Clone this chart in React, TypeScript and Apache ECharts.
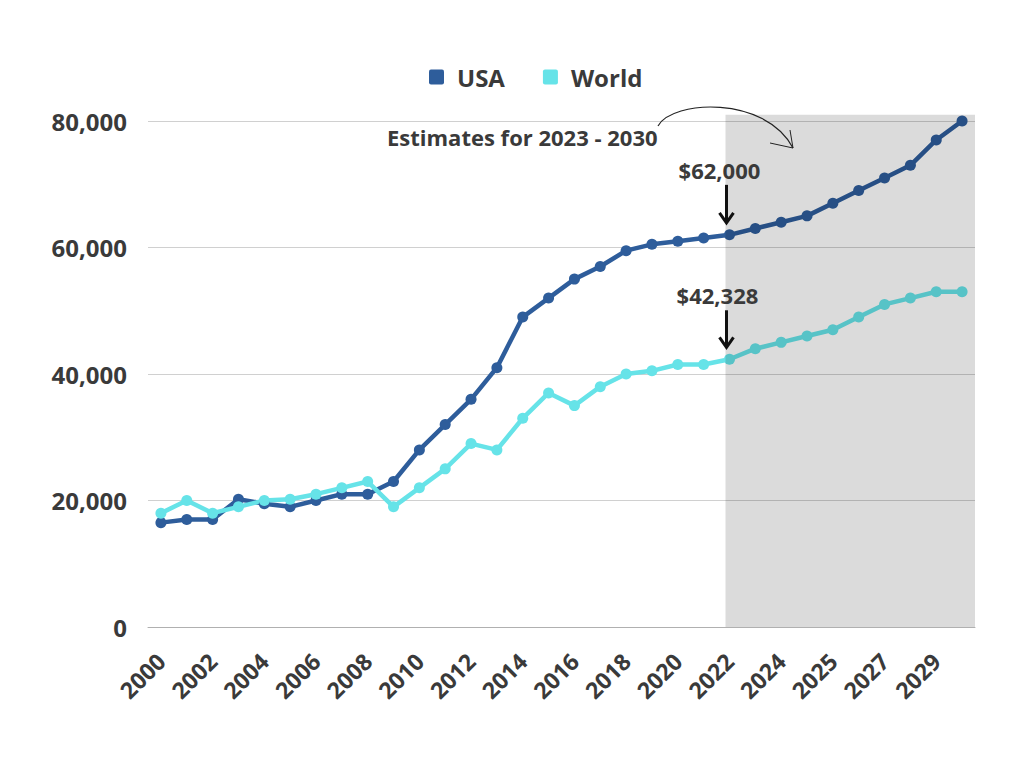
import React, { useEffect, useRef } from "react";
import * as echarts from "echarts";

const years = [
  "2000", "2001", "2002", "2003", "2004", "2005", "2006", "2007", "2008", "2009",
  "2010", "2011", "2012", "2013", "2014", "2015", "2016", "2017", "2018", "2019",
  "2020", "2021", "2022", "2023", "2024", "2024", "2025", "2026", "2027", "2028",
  "2029", "2030",
];

const usa = [
  16500, 17000, 17000, 20200, 19500, 19000, 20000, 21000, 21000, 23000,
  28000, 32000, 36000, 41000, 49000, 52000, 55000, 57000, 59500, 60500,
  61000, 61500, 62000, 63000, 64000, 65000, 67000, 69000, 71000, 73000,
  77000, 80000,
];

const world = [
  18000, 20000, 18000, 19000, 20000, 20200, 21000, 22000, 23000, 19000,
  22000, 25000, 29000, 28000, 33000, 37000, 35000, 38000, 40000, 40500,
  41500, 41500, 42328, 44000, 45000, 46000, 47000, 49000, 51000, 52000,
  53000, 53000,
];

const seriesNames = ["USA", "World"];
const estimateStartIndex = 22;
const estimateNote = "Estimates for 2023 - 2030";

const FONT = "'Open Sans', sans-serif";
const TEXT = "#3a3a3a";
const USA_COLOR = "#2E5D9B";
const WORLD_COLOR = "#66E3E8";
const GRID = { left: 148, right: 49, top: 121, bottom: 141 };
const W = 1024;
const H = 768;
const SQUARE_ICON = "path://M2,0 H13 Q15,0 15,2 V13 Q15,15 13,15 H2 Q0,15 0,13 V2 Q0,0 2,0 Z";

const fmt = (v: number) => Math.round(v).toLocaleString("en-US");

export default function App() {
  const ref = useRef<HTMLDivElement>(null);

  useEffect(() => {
    if (!ref.current) return;
    const chart = echarts.init(ref.current, undefined, { renderer: "svg", width: W, height: H });
    chart.setOption({
      animation: false,
      backgroundColor: "#ffffff",
      legend: {
        data: seriesNames,
        left: 424,
        top: 60,
        icon: SQUARE_ICON,
        itemWidth: 15,
        itemHeight: 15,
        itemGap: 38,
        textStyle: {
          fontFamily: FONT,
          fontWeight: "bold",
          fontSize: 24,
          color: TEXT,
          padding: [0, 0, 0, 8],
        },
      },
      grid: { ...GRID },
      xAxis: {
        type: "category",
        data: years,
        boundaryGap: true,
        axisTick: { show: false },
        axisLine: { lineStyle: { color: "#b0b0b0", width: 1 } },
        axisLabel: {
          interval: 1,
          rotate: 45,
          margin: 30,
          fontFamily: FONT,
          fontWeight: "bold",
          fontSize: 23,
          color: TEXT,
        },
      },
      yAxis: {
        type: "value",
        min: 0,
        max: 80000,
        interval: 20000,
        axisLine: { show: false },
        axisTick: { show: false },
        splitLine: { lineStyle: { color: "#d0d0d0", width: 1 } },
        axisLabel: {
          margin: 21,
          formatter: (v: number) => fmt(v),
          fontFamily: FONT,
          fontWeight: "bold",
          fontSize: 24,
          color: TEXT,
        },
      },
      series: [
        {
          name: seriesNames[0],
          type: "line",
          data: usa,
          color: USA_COLOR,
          symbol: "circle",
          symbolSize: 11,
          showSymbol: true,
          lineStyle: { width: 4.5, color: USA_COLOR },
          itemStyle: { color: USA_COLOR },
        },
        {
          name: seriesNames[1],
          type: "line",
          data: world,
          color: WORLD_COLOR,
          symbol: "circle",
          symbolSize: 11,
          showSymbol: true,
          lineStyle: { width: 4.5, color: WORLD_COLOR },
          itemStyle: { color: WORLD_COLOR },
        },
      ],
    });

    const pU = chart.convertToPixel({ xAxisIndex: 0, yAxisIndex: 0 }, [estimateStartIndex, usa[estimateStartIndex]]) as number[];
    const pW = chart.convertToPixel({ xAxisIndex: 0, yAxisIndex: 0 }, [estimateStartIndex, world[estimateStartIndex]]) as number[];
    const yTop = chart.convertToPixel({ yAxisIndex: 0 }, 81000) as number;
    const yBottom = chart.convertToPixel({ yAxisIndex: 0 }, 0) as number;
    const xRight = W - GRID.right;

    const arrow = (x: number, tipY: number, topY: number) => [
      {
        type: "line",
        shape: { x1: x, y1: topY, x2: x, y2: tipY - 1 },
        style: { stroke: "#111", lineWidth: 3 },
        z: 100,
      },
      {
        type: "polyline",
        shape: { points: [[x - 7, tipY - 10], [x, tipY], [x + 7, tipY - 10]] },
        style: { stroke: "#111", lineWidth: 3, fill: "none" },
        z: 100,
      },
    ];

    const label = (text: string, cx: number, cy: number) => ({
      type: "text",
      x: cx,
      y: cy,
      style: {
        text,
        fill: TEXT,
        font: `bold 22px ${FONT}`,
        align: "center",
        verticalAlign: "middle",
      },
      z: 100,
    });

    chart.setOption({
      graphic: [
        {
          type: "rect",
          shape: { x: pU[0] - 4, y: yTop, width: xRight - (pU[0] - 4), height: yBottom - yTop },
          style: { fill: "rgba(0,0,0,0.14)" },
          z: 50,
        },
        ...arrow(pU[0] - 3, pU[1] - 12, pU[1] - 50),
        ...arrow(pW[0] - 3, pW[1] - 12, pW[1] - 49),
        label("$" + fmt(usa[estimateStartIndex]), pU[0] - 10, pU[1] - 65),
        label("$" + fmt(world[estimateStartIndex]), pW[0] - 12, pW[1] - 64),
        {
          type: "text",
          x: 387,
          y: 137,
          style: {
            text: estimateNote,
            fill: TEXT,
            font: `bold 22px ${FONT}`,
            align: "left",
            verticalAlign: "middle",
          },
          z: 100,
        },
        {
          type: "bezierCurve",
          shape: { x1: 658, y1: 126, cpx1: 672, cpy1: 100, cpx2: 765, cpy2: 95, x2: 793, y2: 148 },
          style: { stroke: "#222", lineWidth: 1.2, fill: "none" },
          z: 100,
        },
        {
          type: "polyline",
          shape: { points: [[770, 143], [793, 148], [790, 130]] },
          style: { stroke: "#222", lineWidth: 1, fill: "none" },
          z: 100,
        },
      ],
    });

    return () => chart.dispose();
  }, []);

  return (
    <div
      ref={ref}
      style={{ position: "fixed", left: 0, top: 0, width: W, height: H, background: "#fff" }}
    />
  );
}
